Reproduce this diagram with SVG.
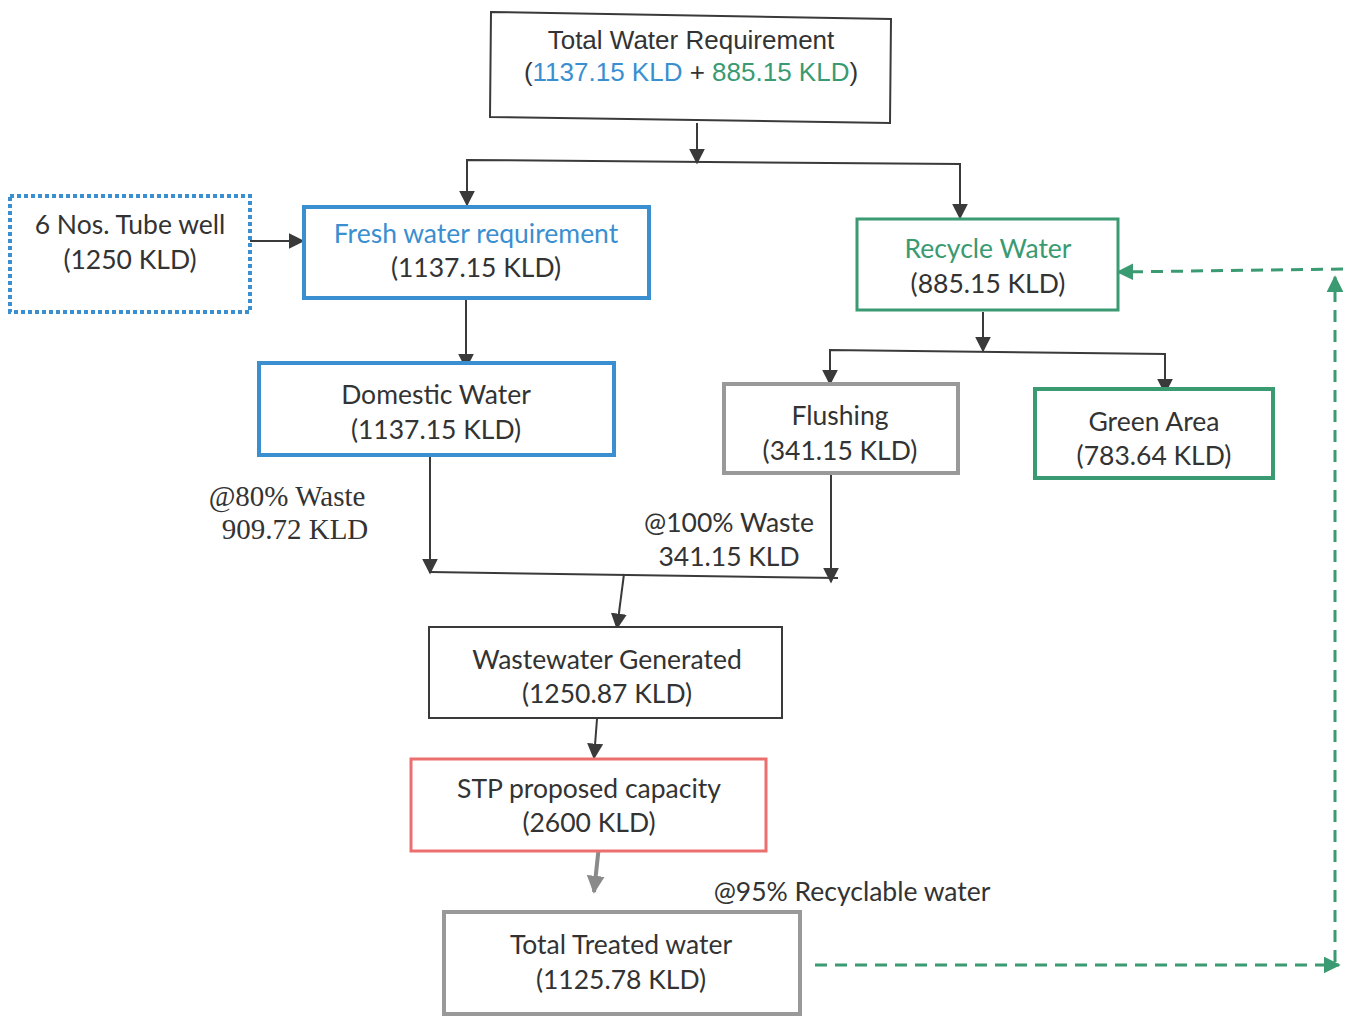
<svg xmlns="http://www.w3.org/2000/svg" width="1345" height="1016" viewBox="0 0 1345 1016">
<defs>
<style>
.t{font-family:Lato,"Open Sans","Liberation Sans",sans-serif;font-size:26.5px;fill:#333;text-anchor:middle}
.a{font-family:"Liberation Sans",Arial,sans-serif;font-size:26px;fill:#333;text-anchor:middle}
.s{font-family:"Liberation Serif","Times New Roman",serif;font-size:29px;fill:#333;text-anchor:middle}
.blue{fill:#3a8fd0}
.green{fill:#3a9a72}
.box{fill:#fff}
.line{stroke:#3a3a3a;stroke-width:2;fill:none}
.gline{stroke:#3a9a72;stroke-width:3;fill:none;stroke-dasharray:12 8}
</style>
<marker id="ahk" viewBox="0 0 10 10" refX="9" refY="5" markerWidth="16" markerHeight="16" orient="auto" markerUnits="userSpaceOnUse">
<path d="M0,0 L10,5 L0,10 z" fill="#3a3a3a"/>
</marker>
<marker id="ahg" viewBox="0 0 10 10" refX="9" refY="5" markerWidth="17" markerHeight="17" orient="auto" markerUnits="userSpaceOnUse">
<path d="M0,0 L10,5 L0,10 z" fill="#3a9a72"/>
</marker>
<marker id="ahgr" viewBox="0 0 10 10" refX="9" refY="5" markerWidth="18" markerHeight="18" orient="auto" markerUnits="userSpaceOnUse">
<path d="M0,0 L10,5 L0,10 z" fill="#8a8a8a"/>
</marker>
</defs>
<rect width="1345" height="1016" fill="#fff"/>

<g id="connectors">
<line class="line" x1="697" y1="123" x2="697" y2="163" marker-end="url(#ahk)"/>
<polyline class="line" points="467,204 467,160 960,164 960,217" />
<line class="line" x1="467" y1="180" x2="467" y2="205" marker-end="url(#ahk)"/>
<line class="line" x1="960" y1="195" x2="960" y2="218" marker-end="url(#ahk)"/>
<line class="line" x1="250" y1="241" x2="303" y2="241" marker-end="url(#ahk)"/>
<line class="line" x1="466" y1="298" x2="466" y2="368" marker-end="url(#ahk)"/>
<line class="line" x1="983" y1="312" x2="983" y2="351" marker-end="url(#ahk)"/>
<polyline class="line" points="830,382 830,350 1165,354 1165,391"/>
<line class="line" x1="830" y1="360" x2="830" y2="384" marker-end="url(#ahk)"/>
<line class="line" x1="1165" y1="370" x2="1165" y2="393" marker-end="url(#ahk)"/>
<line class="line" x1="430" y1="456" x2="430" y2="573" marker-end="url(#ahk)"/>
<line class="line" x1="831" y1="474" x2="831" y2="582" marker-end="url(#ahk)"/>
<line class="line" x1="430" y1="572" x2="838" y2="578"/>
<line class="line" x1="624" y1="574" x2="617" y2="628" marker-end="url(#ahk)"/>
<line class="line" x1="598" y1="706" x2="594" y2="758" marker-end="url(#ahk)"/>
<line x1="600" y1="836" x2="594" y2="892" stroke="#8a8a8a" stroke-width="4" marker-end="url(#ahgr)"/>
<line class="gline" x1="815" y1="965" x2="1339" y2="965" marker-end="url(#ahg)"/>
<line class="gline" x1="1335" y1="962" x2="1335" y2="277" marker-end="url(#ahg)" stroke-dasharray="5 3"/>
<line class="gline" x1="1343" y1="269" x2="1118" y2="272" marker-end="url(#ahg)"/>
</g>

<g id="total">
<polygon class="box" points="491,12 891,19 890,123 490,117" stroke="#3a3a3a" stroke-width="2"/>
<text class="a" x="691" y="49">Total Water Requirement</text>
<text class="a" x="691" y="81">(<tspan class="blue">1137.15 KLD</tspan> + <tspan class="green">885.15 KLD</tspan>)</text>
</g>

<g id="tubewell">
<rect class="box" x="10" y="196" width="240" height="116" stroke="#3a8fd0" stroke-width="4" stroke-dasharray="4 3"/>
<text class="t" x="130" y="234">6 Nos. Tube well</text>
<text class="t" x="130" y="269">(1250 KLD)</text>
</g>

<g id="fresh">
<rect class="box" x="304" y="207" width="345" height="91" stroke="#3a8fd0" stroke-width="4"/>
<text class="t blue" x="476" y="243">Fresh water requirement</text>
<text class="t" x="476" y="277">(1137.15 KLD)</text>
</g>

<g id="recycle">
<rect class="box" x="857" y="219" width="261" height="91" stroke="#3a9a72" stroke-width="3"/>
<text class="t green" x="988" y="258">Recycle Water</text>
<text class="t" x="988" y="293">(885.15 KLD)</text>
</g>

<g id="domestic">
<rect class="box" x="259" y="363" width="355" height="92" stroke="#3a8fd0" stroke-width="4"/>
<text class="t" x="436" y="404">Domestic Water</text>
<text class="t" x="436" y="439">(1137.15 KLD)</text>
</g>

<g id="flushing">
<rect class="box" x="724" y="384" width="234" height="89" stroke="#999" stroke-width="4"/>
<text class="t" x="840" y="425">Flushing</text>
<text class="t" x="840" y="460">(341.15 KLD)</text>
</g>

<g id="greenarea">
<rect class="box" x="1035" y="389" width="238" height="89" stroke="#3a9a72" stroke-width="4"/>
<text class="t" x="1154" y="431">Green Area</text>
<text class="t" x="1154" y="465">(783.64 KLD)</text>
</g>

<g id="labels">
<text class="s" x="287" y="506">@80% Waste</text>
<text class="s" x="295" y="539">909.72 KLD</text>
<text class="t" x="729" y="532">@100% Waste</text>
<text class="t" x="729" y="566">341.15 KLD</text>
<text class="t" x="852" y="901">@95% Recyclable water</text>
</g>

<g id="wastewater">
<rect class="box" x="429" y="627" width="353" height="91" stroke="#3a3a3a" stroke-width="2"/>
<text class="t" x="607" y="669">Wastewater Generated</text>
<text class="t" x="607" y="703">(1250.87 KLD)</text>
</g>

<g id="stp">
<rect class="box" x="411" y="759" width="355" height="92" stroke="#ec6e6e" stroke-width="3"/>
<text class="t" x="589" y="798">STP proposed capacity</text>
<text class="t" x="589" y="832">(2600 KLD)</text>
</g>

<g id="treated">
<rect class="box" x="444" y="912" width="356" height="102" stroke="#999" stroke-width="4"/>
<text class="t" x="621" y="954">Total Treated water</text>
<text class="t" x="621" y="989">(1125.78 KLD)</text>
</g>
</svg>
